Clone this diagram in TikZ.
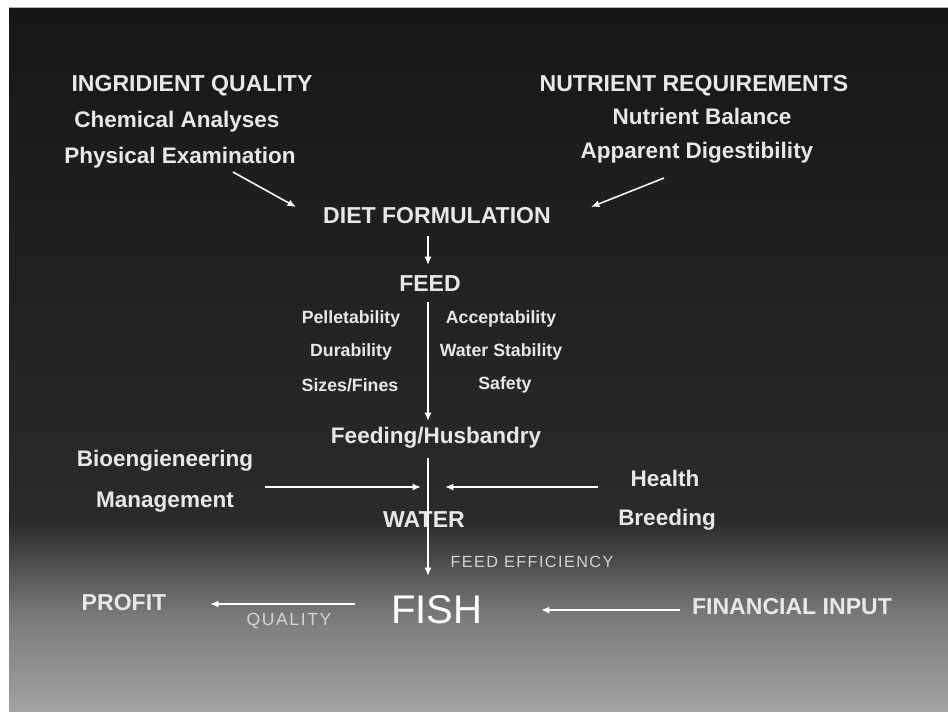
\documentclass[tikz,border=0pt]{standalone}
\usepackage{fontspec}
\setmainfont{Liberation Sans}
\usetikzlibrary{arrows.meta}

\definecolor{bgtop}{HTML}{171717}
\definecolor{bgmid}{HTML}{2B2B2B}
\definecolor{bglow}{HTML}{7A7A7A}
\definecolor{bgend}{HTML}{A3A3A3}
\definecolor{ink}{HTML}{E8E8E8}
\definecolor{soft}{HTML}{D4D4D4}

\begin{document}
\begin{tikzpicture}[x=0.025cm, y=-0.025cm,
    title/.style={text=ink, inner sep=0pt, font=\bfseries\fontsize{16.4}{18}\selectfont},
    item/.style={text=ink, inner sep=0pt, font=\bfseries\fontsize{16}{18}\selectfont},
    subitem/.style={text=ink, inner sep=0pt, font=\bfseries\fontsize{12.6}{14}\selectfont},
    note/.style={text=soft, inner sep=0pt, font=\fontsize{11.5}{13}\selectfont\addfontfeatures{LetterSpace=9}},
    arr/.style={draw=white, line width=1.1pt, -{Latex[length=6pt,width=5pt]}}]
\useasboundingbox (0,0) rectangle (948,713);

% background
\fill [white] (0,0) rectangle (948,713);
\shade [top color=bgtop, bottom color=bgmid] (9,8) rectangle (948,523);
\shade [top color=bgmid, bottom color=bglow] (9,522) rectangle (948,616);
\shade [top color=bglow, bottom color=bgend] (9,615) rectangle (948,711);
\draw [color=gray!60, line width=0.8] (9,7.5)--(948,7.5);

% inputs on top
\node [title] (ingr) at (192,86) {INGRIDIENT QUALITY};
\node [item] (chem) at (177,122) {Chemical Analyses};
\node [item] (phys) at (180,158) {Physical Examination};
\node [title] (nutr) at (694,86) {NUTRIENT REQUIREMENTS};
\node [item] (bal) at (702,116) {Nutrient Balance};
\node [item] (dig) at (697,153) {Apparent Digestibility};

\node [title] (diet) at (437,216) {DIET FORMULATION};
\node [title] (feed) at (430,284) {FEED};

% feed properties
\node [subitem] (pell) at (351,319) {Pelletability};
\node [subitem] (acc) at (501,319) {Acceptability};
\node [subitem] (dur) at (351,352) {Durability};
\node [subitem] (wst) at (501,352) {Water Stability};
\node [subitem] (size) at (350,385) {Sizes/Fines};
\node [subitem] (saf) at (505,385) {Safety};

\node [item] (husb) at (436,438) {Feeding/Husbandry};
\node [item] (bio) at (165,461) {Bioengieneering};
\node [item] (mgmt) at (165,502) {Management};
\node [item] (health) at (665,478) {Health};
\node [item] (breed) at (667,520) {Breeding};
\node [title] (water) at (424,520) {WATER};
\node [note] (eff) at (532,562) {FEED EFFICIENCY};

\node [text=white, inner sep=0pt, font=\fontsize{28.5}{30}\selectfont] (fish) at (437,610) {FISH};
\node [title] (profit) at (124,603) {PROFIT};
\node [note, font=\fontsize{12.5}{14}\selectfont\addfontfeatures{LetterSpace=9}] (qual) at (289,621) {QUALITY};
\node [title] (fin) at (792,607) {FINANCIAL INPUT};

% arrow ends
\coordinate (physout) at (233,172);
\coordinate (dietinl) at (296,207);
\coordinate (digout) at (664,178);
\coordinate (dietinr) at (591,207);
\coordinate (dietout) at (428,236);
\coordinate (feedin) at (428,265);
\coordinate (feedout) at (428,302);
\coordinate (husbin) at (428,421);
\coordinate (husbout) at (428,458);
\coordinate (fishin) at (428,576);
\coordinate (bioout) at (265,487);
\coordinate (waterl) at (421,487);
\coordinate (healthout) at (598,487);
\coordinate (waterr) at (445,487);
\coordinate (fishl) at (355,604);
\coordinate (profitin) at (210,604);
\coordinate (finout) at (680,610);
\coordinate (fishr) at (541,610);

\draw [arr] (physout)--(dietinl);
\draw [arr] (digout)--(dietinr);
\draw [arr] (dietout)--(feedin);
\draw [arr] (feedout)--(husbin);
\draw [arr] (husbout)--(fishin);
\draw [arr] (bioout)--(waterl);
\draw [arr] (healthout)--(waterr);
\draw [arr] (fishl)--(profitin);
\draw [arr] (finout)--(fishr);

\end{tikzpicture}
\end{document}
